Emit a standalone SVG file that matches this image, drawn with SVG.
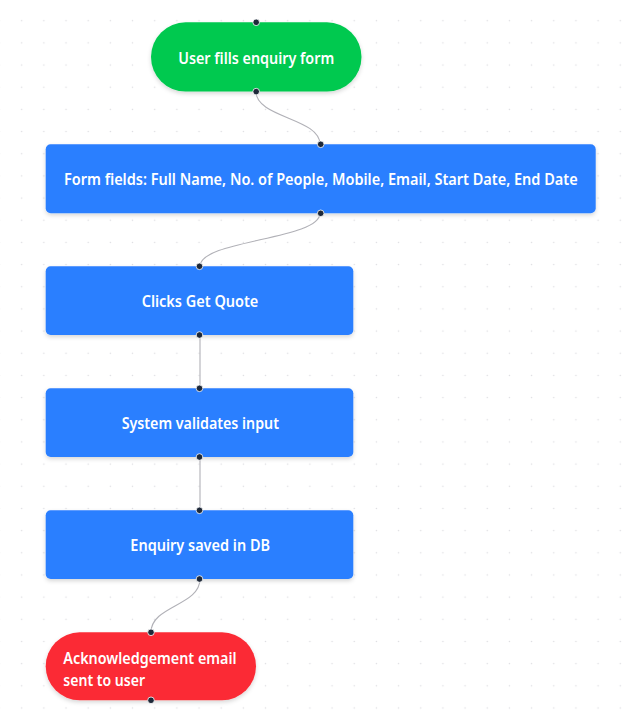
<svg xmlns="http://www.w3.org/2000/svg" width="633" height="726" viewBox="0 0 633 726">
  <defs>
    <pattern id="grid" patternUnits="userSpaceOnUse" x="10.62" y="9.62" width="22.17" height="22.17">
      <circle cx="11.08" cy="11.08" r="0.75" fill="#dcdce0"/>
    </pattern>
    <filter id="shadow" x="-10%" y="-20%" width="120%" height="150%">
      <feDropShadow dx="0" dy="2" stdDeviation="2" flood-color="#000" flood-opacity="0.16"/>
    </filter>
  </defs>
  <style>
    .lbl { font-family: "Noto Sans", "Open Sans", "DejaVu Sans", sans-serif; font-size: 15.5px; font-weight: 600; fill: #ffffff; }
    .mid { text-anchor: middle; }
    .blue { fill: #2b7fff; filter: url(#shadow); }
    .green { fill: #00c950; filter: url(#shadow); }
    .red { fill: #fb2c36; filter: url(#shadow); }
    .handle { fill: #1e2939; stroke: #ffffff; stroke-width: 0.8; }
    .edge { fill: none; stroke: #b1b1b7; stroke-width: 1.1; }
  </style>
  <rect x="0" y="0" width="633" height="726" fill="#ffffff"/>
  <rect x="0" y="0" width="633" height="726" fill="url(#grid)"/>

  <g id="edges">
    <path class="edge" d="M256,91.5 C256,117.9 320,117.9 320,144.3"/>
    <path class="edge" d="M320,213.3 C320,239.8 200,239.8 200,266.3"/>
    <path class="edge" d="M200,335 L200,388.3"/>
    <path class="edge" d="M200,457 L200,510.3"/>
    <path class="edge" d="M200,579 C200,605.7 151,605.7 151,632.3"/>
  </g>

  <g id="start">
    <rect class="green" x="151" y="22.3" width="210.5" height="69.3" rx="34.65"/>
    <text class="lbl mid" x="256.2" y="63.5" textLength="156" lengthAdjust="spacingAndGlyphs">User fills enquiry form</text>
    <circle class="handle" cx="256.2" cy="22.3" r="3.3"/>
    <circle class="handle" cx="256.2" cy="91.6" r="3.3"/>
  </g>

  <g id="form-fields">
    <rect class="blue" x="45.7" y="144.3" width="550" height="69" rx="5"/>
    <text class="lbl mid" x="320.8" y="185.3" textLength="513.7" lengthAdjust="spacingAndGlyphs">Form fields: Full Name, No. of People, Mobile, Email, Start Date, End Date</text>
    <circle class="handle" cx="320.7" cy="144.3" r="3.3"/>
    <circle class="handle" cx="320.7" cy="213.3" r="3.3"/>
  </g>

  <g id="get-quote">
    <rect class="blue" x="45.7" y="266.3" width="307.6" height="68.7" rx="5"/>
    <text class="lbl mid" x="200" y="307.4" textLength="116.7" lengthAdjust="spacingAndGlyphs">Clicks Get Quote</text>
    <circle class="handle" cx="199.5" cy="266.3" r="3.3"/>
    <circle class="handle" cx="199.5" cy="335" r="3.3"/>
  </g>

  <g id="validate">
    <rect class="blue" x="45.7" y="388.3" width="307.6" height="68.7" rx="5"/>
    <text class="lbl mid" x="200.3" y="429.4" textLength="157.3" lengthAdjust="spacingAndGlyphs">System validates input</text>
    <circle class="handle" cx="199.5" cy="388.3" r="3.3"/>
    <circle class="handle" cx="199.5" cy="457" r="3.3"/>
  </g>

  <g id="saved">
    <rect class="blue" x="45.7" y="510.3" width="307.6" height="68.7" rx="5"/>
    <text class="lbl mid" x="200.2" y="551.4" textLength="139.7" lengthAdjust="spacingAndGlyphs">Enquiry saved in DB</text>
    <circle class="handle" cx="199.5" cy="510.3" r="3.3"/>
    <circle class="handle" cx="199.5" cy="579" r="3.3"/>
  </g>

  <g id="ack">
    <rect class="red" x="45.7" y="632.3" width="210.3" height="68" rx="34"/>
    <text class="lbl" x="63.3" y="663.6" textLength="173.3" lengthAdjust="spacingAndGlyphs">Acknowledgement email</text>
    <text class="lbl" x="63.3" y="685.6" textLength="81.7" lengthAdjust="spacingAndGlyphs">sent to user</text>
    <circle class="handle" cx="151" cy="632.3" r="3.3"/>
    <circle class="handle" cx="151" cy="700.3" r="3.3"/>
  </g>
</svg>
